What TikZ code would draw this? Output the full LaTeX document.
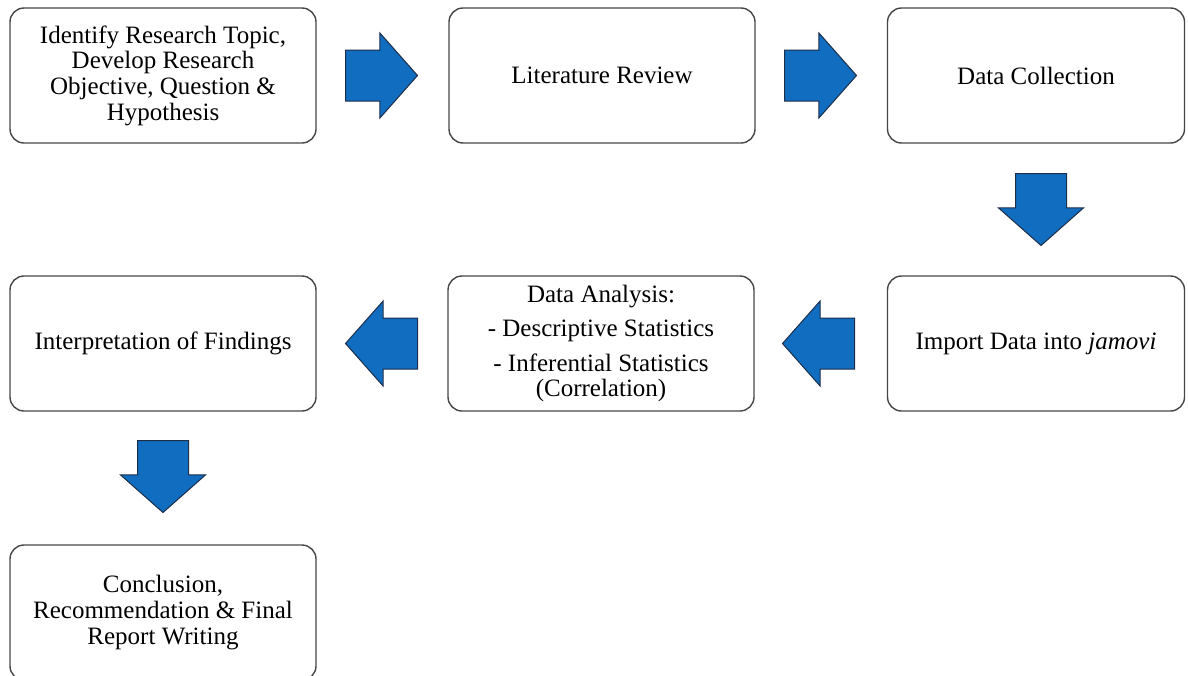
\documentclass[tikz,border=0pt]{standalone}
\usepackage{fontspec}
\setmainfont{Liberation Serif}
\usetikzlibrary{shapes.arrows}
\definecolor{arrowblue}{RGB}{16,109,192}
\definecolor{arrowline}{RGB}{28,46,74}
\definecolor{boxline}{RGB}{70,70,70}

\begin{document}
\begin{tikzpicture}[x=0.5pt,y=-0.5pt,
   stepbox/.style={draw=boxline,line width=0.7pt,rounded corners=7pt,minimum width=153pt,minimum height=67.5pt,align=center,font=\fontsize{12.5}{12.8}\selectfont,inner sep=2pt},
   blockarrow/.style={single arrow,draw=arrowline,fill=arrowblue,line width=0.5pt,inner xsep=0pt,inner ysep=12.5pt,minimum height=36pt,single arrow head extend=8.5pt,single arrow tip angle=97,anchor=tail}]
   \useasboundingbox (0,0) rectangle (1188,675);

   % first row
   \node[stepbox] (b1) at (163,75.5) {Identify Research Topic,\\Develop Research\\Objective, Question \&\\Hypothesis};
   \node[stepbox] (b2) at (602,75.5) {Literature Review};
   \node[stepbox,minimum width=148.5pt] (b3) at (1036,75.5) {Data Collection};

   % second row
   \node[stepbox] (b4) at (163,343.5) {Interpretation of Findings};
   \node[stepbox] (b5) at (601,343.5) {Data Analysis:\\[4.5pt]- Descriptive Statistics\\[4.5pt]- Inferential Statistics\\(Correlation)};
   \node[stepbox,minimum width=148.5pt] (b6) at (1036,343.5) {Import Data into \textit{jamovi}};

   % last row
   \node[stepbox] (b7) at (163,612.5) {Conclusion,\\Recommendation \& Final\\Report Writing};

   % block arrows (placed by their tails)
   \node[blockarrow] (r1) at (345,75.5) {};
   \node[blockarrow] (r2) at (784,75.5) {};
   \node[blockarrow,rotate=-90] (d1) at (1041,173) {};
   \node[blockarrow,rotate=180] (l1) at (855,343.5) {};
   \node[blockarrow,rotate=180] (l2) at (418,343.5) {};
   \node[blockarrow,rotate=-90] (d2) at (163,440) {};
\end{tikzpicture}
\end{document}
